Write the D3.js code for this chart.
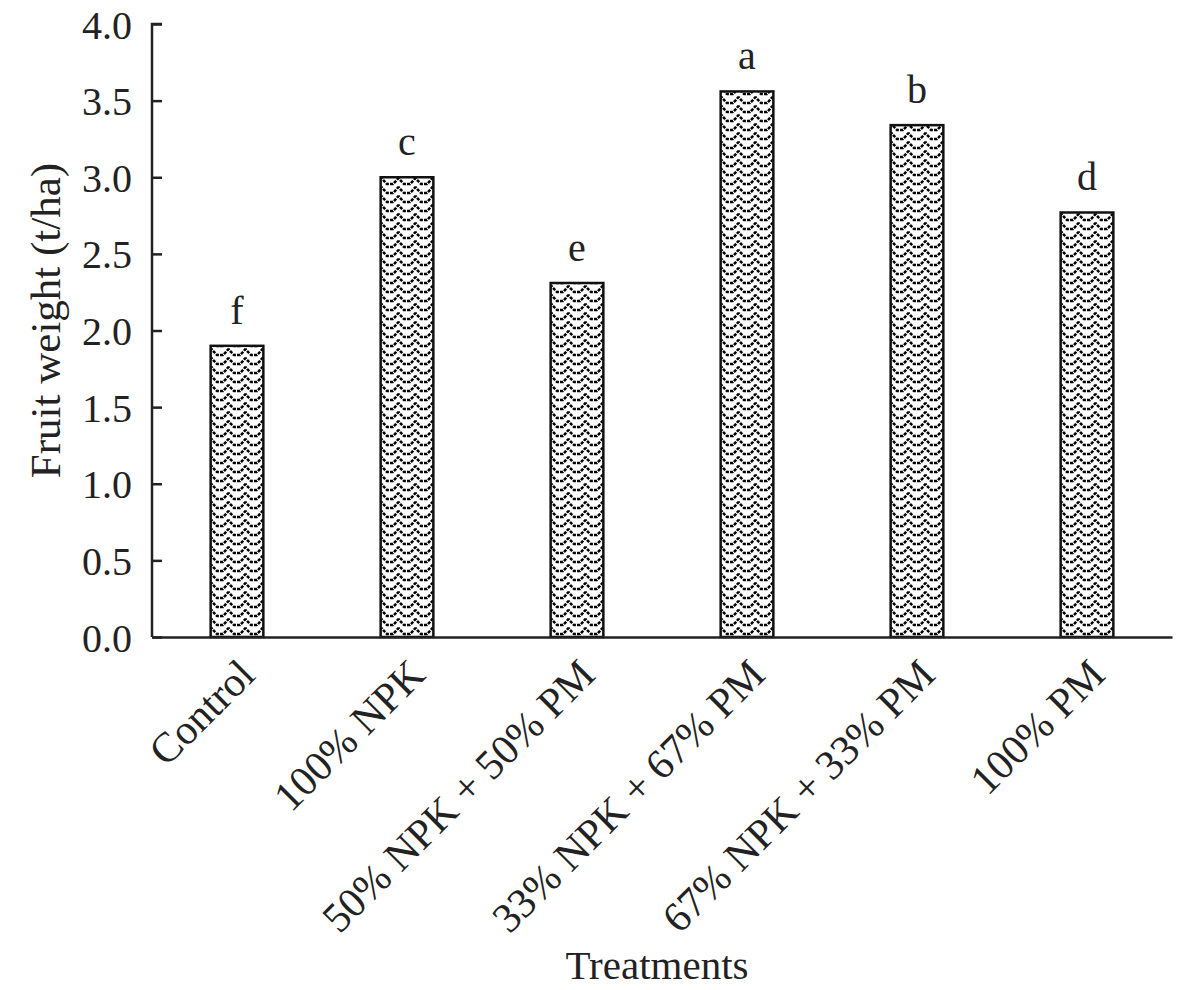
<!DOCTYPE html>
<html>
<head>
<meta charset="utf-8">
<script src="https://cdn.jsdelivr.net/npm/d3@7"></script>
<style>
  body { margin: 0; background: #fff; }
  svg text { font-family: "Liberation Serif", "Times New Roman", serif; fill: #222; }
</style>
</head>
<body>
<div id="chart"></div>
<script>
// treatments and mean fruit weight (t/ha), with significance letters
const treatments = ["Control", "100% NPK", "50% NPK + 50% PM", "33% NPK + 67% PM", "67% NPK + 33% PM", "100% PM"];
const weights = [1.90, 3.00, 2.31, 3.56, 3.34, 2.77];
const letters = ["f", "c", "e", "a", "b", "d"];
const yTicks = [0.0, 0.5, 1.0, 1.5, 2.0, 2.5, 3.0, 3.5, 4.0];

const data = treatments.map((t, i) => ({ t, w: weights[i], l: letters[i] }));

const W = 1200, H = 990;
const margin = { top: 24, right: 28, bottom: 353, left: 152 };
const width = W - margin.left - margin.right;
const height = H - margin.top - margin.bottom;

const root = d3.select("#chart").append("svg")
    .attr("width", W)
    .attr("height", H);

// wavy fill pattern
const defs = root.append("defs");
const pat = defs.append("pattern")
    .attr("id", "wave")
    .attr("patternUnits", "userSpaceOnUse")
    .attr("width", 17)
    .attr("height", 9);
pat.append("rect").attr("width", 17).attr("height", 9).attr("fill", "#fff");
pat.append("path")
    .attr("d", "M0,7 L3,7 L6,4 L8,1.5 L9,1.5 L11,4 L14,7 L17,7")
    .attr("fill", "none")
    .attr("stroke", "#000")
    .attr("stroke-width", 2.5)
    .attr("stroke-dasharray", "3.2,1.2");

const svg = root.append("g")
    .attr("transform", `translate(${margin.left},${margin.top})`);

const x = d3.scaleBand()
    .domain(treatments)
    .range([0, width])
    .paddingInner(0.69)
    .paddingOuter(0.345);

const y = d3.scaleLinear()
    .domain([0, 4])
    .range([height, 0]);

// bars
svg.selectAll(".bar")
    .data(data)
    .enter()
    .append("rect")
    .attr("class", "bar")
    .attr("x", d => x(d.t))
    .attr("y", d => y(d.w))
    .attr("width", x.bandwidth())
    .attr("height", d => height - y(d.w))
    .attr("fill", "url(#wave)")
    .attr("stroke", "#111")
    .attr("stroke-width", 2.5);

// letters above bars
svg.selectAll(".letter")
    .data(data)
    .enter()
    .append("text")
    .attr("x", d => x(d.t) + x.bandwidth() / 2)
    .attr("y", d => y(d.w) - 22)
    .attr("text-anchor", "middle")
    .style("font-size", "40px")
    .text(d => d.l);

// y axis, ticks pointing inward
const yAxis = svg.append("g")
    .call(d3.axisRight(y).tickValues(yTicks).tickFormat(d3.format(".1f")).tickSize(10));
yAxis.select(".domain").attr("stroke", "#222").attr("stroke-width", 2.5)
    .attr("d", `M10,0H0V${height}`);
yAxis.selectAll(".tick line").attr("stroke", "#222").attr("stroke-width", 2.5);
yAxis.selectAll(".tick text")
    .attr("x", -20)
    .attr("text-anchor", "end")
    .attr("dy", "0.35em")
    .style("font-size", "40px");

// x axis line, no ticks
const xAxis = svg.append("g")
    .attr("transform", `translate(0,${height})`)
    .call(d3.axisBottom(x).tickSize(0));
xAxis.select(".domain").attr("stroke", "#222").attr("stroke-width", 2.5);
xAxis.selectAll(".tick text")
    .attr("text-anchor", "end")
    .attr("dy", 0)
    .attr("transform", "translate(18,38) rotate(-45)")
    .style("font-size", "42px");

// axis titles
svg.append("text")
    .attr("x", width / 2 - 5)
    .attr("y", height + 342)
    .attr("text-anchor", "middle")
    .style("font-size", "41px")
    .text("Treatments");

svg.append("text")
    .attr("transform", "rotate(-90)")
    .attr("x", -height / 2 + 10)
    .attr("y", -92)
    .attr("text-anchor", "middle")
    .style("font-size", "43px")
    .text("Fruit weight (t/ha)");
</script>
</body>
</html>
